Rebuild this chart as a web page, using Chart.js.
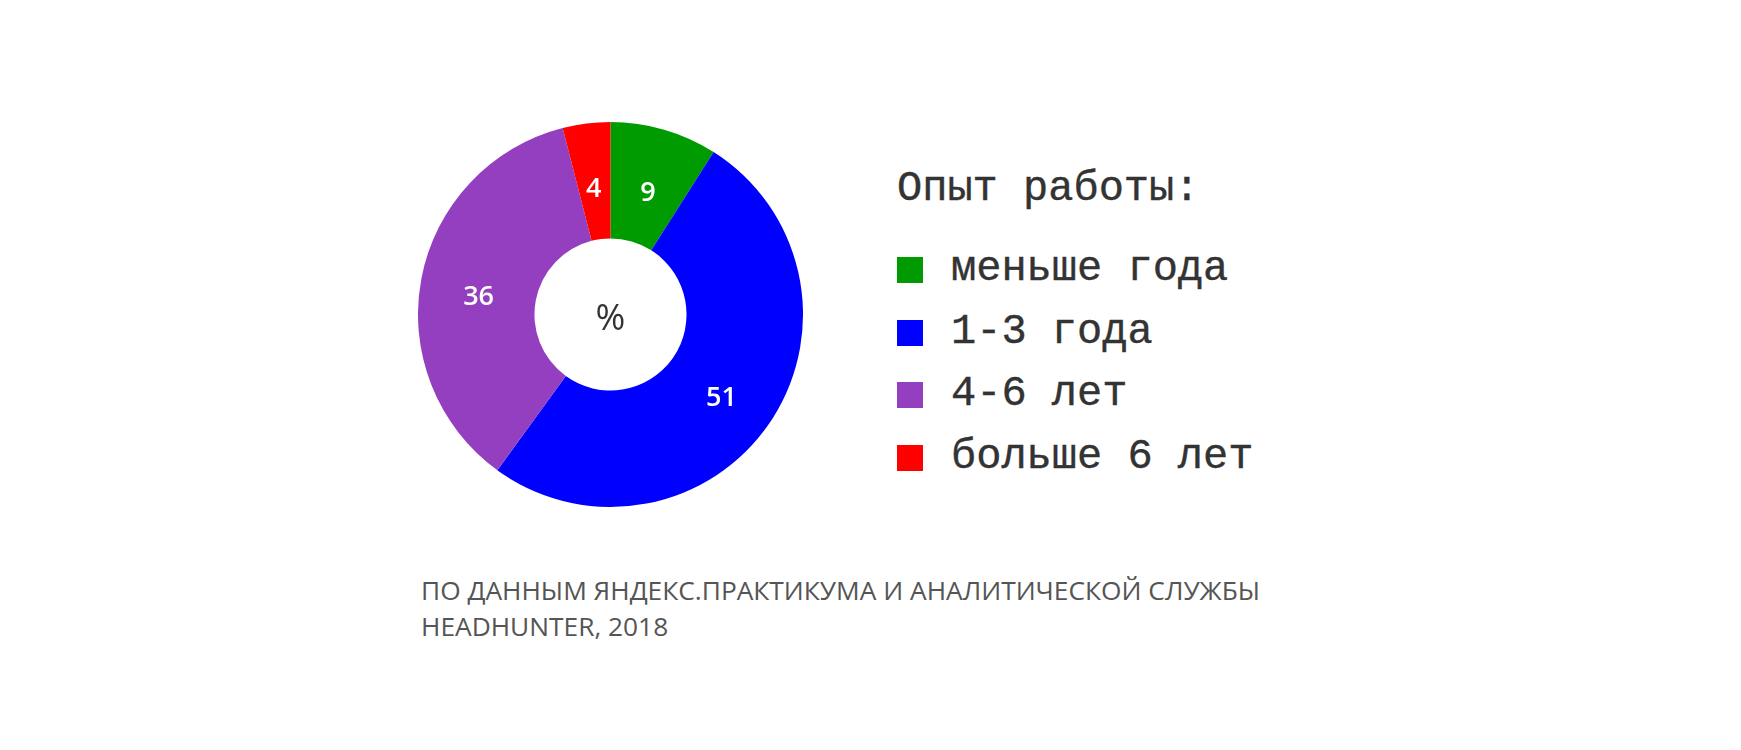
<!DOCTYPE html>
<html>
<head>
<meta charset="utf-8">
<script src="https://cdn.jsdelivr.net/npm/chart.js@4/dist/chart.umd.min.js"></script>
<style>
  html, body { margin: 0; padding: 0; background: #fff; }
  body { width: 1741px; height: 750px; position: relative; overflow: hidden; }
  #chartBox { position: absolute; left: 418px; top: 122px; width: 385px; height: 385px; }
  #legend { position: absolute; left: 897px; top: 164px; font-family: "Liberation Mono", monospace; color: #333; -webkit-text-stroke: 0.4px #333; }
  #legend .title { font-size: 42px; line-height: 50px; white-space: pre; }
  #legend .item { position: absolute; left: 0; white-space: pre; font-size: 42px; line-height: 50px; }
  #legend .box { position: absolute; left: 0; width: 26px; height: 26px; -webkit-text-stroke: 0; }
  #legend .lbl { position: absolute; left: 54px; }
  #note { position: absolute; left: 421px; top: 573px; font-family: "Open Sans", sans-serif; font-size: 26.3px; line-height: 35.5px; color: #555; white-space: pre; }
</style>
</head>
<body>
<div id="chartBox"><canvas id="c"></canvas></div>
<div id="legend"></div>
<div id="note"></div>
<script>
const legendTitle = "Опыт работы:";
const categories = ["меньше года", "1-3 года", "4-6 лет", "больше 6 лет"];
const values = [9, 51, 36, 4];
const colors = ["#009b00", "#0000ff", "#943fc0", "#ff0000"];
const centerText = "%";
const noteLines = ["ПО ДАННЫМ ЯНДЕКС.ПРАКТИКУМА И АНАЛИТИЧЕСКОЙ СЛУЖБЫ", "HEADHUNTER, 2018"];

const labelPlugin = {
  id: 'sliceLabels',
  afterDatasetsDraw(chart) {
    const ctx = chart.ctx;
    const meta = chart.getDatasetMeta(0);
    ctx.save();
    ctx.textAlign = 'center';
    ctx.textBaseline = 'middle';
    ctx.fillStyle = '#ffffff';
    ctx.font = '600 27px "Open Sans", sans-serif';
    meta.data.forEach((arc, i) => {
      const p = arc.tooltipPosition();
      ctx.fillText(String(chart.data.datasets[0].data[i]), p.x, p.y + 8);
    });
    const a = meta.data[0];
    ctx.fillStyle = '#333333';
    ctx.font = '400 36px "Open Sans", sans-serif';
    ctx.fillText(centerText, a.x, a.y + 5);
    ctx.restore();
  }
};

const chart = new Chart(document.getElementById('c'), {
  type: 'doughnut',
  data: {
    labels: categories,
    datasets: [{ data: values, backgroundColor: colors, borderWidth: 0, hoverOffset: 0 }]
  },
  options: {
    responsive: true,
    maintainAspectRatio: false,
    animation: false,
    cutout: '39.5%',
    layout: { padding: 0 },
    plugins: { legend: { display: false }, tooltip: { enabled: false } }
  },
  plugins: [labelPlugin]
});

// HTML legend built from the chart's data
const lg = document.getElementById('legend');
const t = document.createElement('div');
t.className = 'title';
t.textContent = legendTitle;
lg.appendChild(t);
categories.forEach((cat, i) => {
  const it = document.createElement('div');
  it.className = 'item';
  it.style.top = (80 + i * 62.7) + 'px';
  const b = document.createElement('div');
  b.className = 'box';
  b.style.background = colors[i];
  b.style.top = '13px';
  const l = document.createElement('div');
  l.className = 'lbl';
  l.textContent = cat;
  it.appendChild(b);
  it.appendChild(l);
  lg.appendChild(it);
});

document.getElementById('note').textContent = noteLines.join("\n");
</script>
</body>
</html>
